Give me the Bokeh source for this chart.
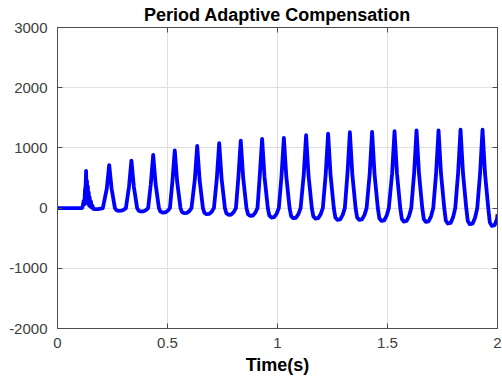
from bokeh.plotting import figure
from bokeh.models import Range1d, FixedTicker, LinearAxis
from bokeh.embed import file_html
from bokeh.resources import INLINE

# ---- data ----
x_ticks = [0, 0.5, 1, 1.5, 2]
x_tick_labels = ["0", "0.5", "1", "1.5", "2"]
y_ticks = [-2000, -1000, 0, 1000, 2000, 3000]
y_tick_labels = ["-2000", "-1000", "0", "1000", "2000", "3000"]

# flat start before compensation kicks in
start_t = [0.0, 0.112]
start_v = [0, 0]

# first (noisy) spike around t = 0.13 s
spike_t = [0.115, 0.119, 0.122, 0.125, 0.128, 0.130, 0.132, 0.134, 0.136, 0.138,
           0.140, 0.142, 0.144, 0.146, 0.149, 0.152, 0.155, 0.159]
spike_v = [40, 120, 60, 300, 380, 620, 180, 450, 90, 360,
           70, 260, 40, 180, 30, 110, 10, 40]

# periodic peaks (time, value) and the trough that follows each peak
peak_t = [0.130, 0.235, 0.336, 0.435, 0.533, 0.635, 0.735, 0.833, 0.930, 1.029,
          1.130, 1.230, 1.329, 1.430, 1.532, 1.632, 1.732, 1.832, 1.932]
peak_v = [610, 715, 790, 885, 960, 1035, 1080, 1120, 1150, 1165,
          1210, 1237, 1260, 1265, 1280, 1292, 1292, 1303, 1303]
trough_v = [-17, -45, -56, -73, -84, -100, -111, -128, -156, -167,
            -173, -195, -195, -211, -223, -228, -256, -267, -295]

end_t = 2.0
end_v = -100

# ---- build the polyline from the read values ----
ts = list(start_t)
vs = list(start_v)
for k, (tp, P, T) in enumerate(zip(peak_t, peak_v, trough_v)):
    if k == 0:
        ts += spike_t
        vs += spike_v
    else:
        ts += [tp - 0.011, tp, tp + 0.011, tp + 0.026]
        vs += [0.45 * P, P, 0.45 * P, 0]
    ts += [tp + 0.033, tp + 0.042, tp + 0.055, tp + 0.066, tp + 0.076]
    vs += [0.8 * T, T, 0.96 * T, 0.6 * T, 0]
pts = [(t, v) for t, v in zip(ts, vs) if t < end_t]
ts = [a for a, _ in pts] + [end_t]
vs = [b for _, b in pts] + [end_v]

FONT = "Liberation Sans"
AXIS_COLOR = "#4d4d4d"
LABEL_COLOR = "#404040"

p = figure(width=502, height=377, output_backend="svg", toolbar_location=None,
           x_range=Range1d(0, 2), y_range=Range1d(-2000, 3000),
           min_border_left=57, min_border_right=5, min_border_top=0, min_border_bottom=0)
p.background_fill_color = "white"
p.border_fill_color = "white"
p.outline_line_color = AXIS_COLOR
p.outline_line_width = 1

p.title.text = "Period Adaptive Compensation"
p.title.align = "center"
p.title.text_font = FONT
p.title.text_font_size = "18px"
p.title.text_font_style = "bold"
p.title.text_color = "black"
p.title.standoff = 5

p.line(ts, vs, line_color="#0000ff", line_width=3.8, line_join="round")

for ax in (p.xaxis, p.yaxis):
    ax.major_label_text_font = FONT
    ax.major_label_text_font_size = "15px"
    ax.major_label_text_color = LABEL_COLOR
    ax.axis_line_color = AXIS_COLOR
    ax.major_tick_line_color = AXIS_COLOR
    ax.major_tick_in = 5
    ax.major_tick_out = 0
    ax.minor_tick_line_color = None

p.xaxis.ticker = FixedTicker(ticks=x_ticks)
p.xaxis.major_label_overrides = dict(zip(x_ticks, x_tick_labels))
p.yaxis.ticker = FixedTicker(ticks=y_ticks)
p.yaxis.major_label_overrides = dict(zip(y_ticks, y_tick_labels))
p.xaxis.major_label_standoff = 9
p.yaxis.major_label_standoff = 10

p.xaxis.axis_label = "Time(s)"
p.xaxis.axis_label_text_font = FONT
p.xaxis.axis_label_text_font_size = "18px"
p.xaxis.axis_label_text_font_style = "bold"
p.xaxis.axis_label_text_color = "black"
p.xaxis.axis_label_standoff = 4

# top and right axes carry only the inward ticks (box on)
top = LinearAxis(ticker=FixedTicker(ticks=x_ticks), major_label_text_font_size="0px",
                 major_label_text_color=None,
                 major_tick_in=5, major_tick_out=0, major_label_standoff=0,
                 minor_tick_line_color=None, axis_line_color=AXIS_COLOR,
                 major_tick_line_color=AXIS_COLOR)
right = LinearAxis(ticker=FixedTicker(ticks=y_ticks), major_label_text_font_size="0px",
                   major_label_text_color=None,
                   major_tick_in=5, major_tick_out=0, major_label_standoff=0,
                   minor_tick_line_color=None, axis_line_color=AXIS_COLOR,
                   major_tick_line_color=AXIS_COLOR)
p.add_layout(top, "above")
p.add_layout(right, "right")

p.xgrid.ticker = FixedTicker(ticks=x_ticks)
p.ygrid.ticker = FixedTicker(ticks=y_ticks)
p.grid.grid_line_color = "#e0e0e0"
p.grid.grid_line_width = 1

open("out.html", "w").write(file_html(p, INLINE))
